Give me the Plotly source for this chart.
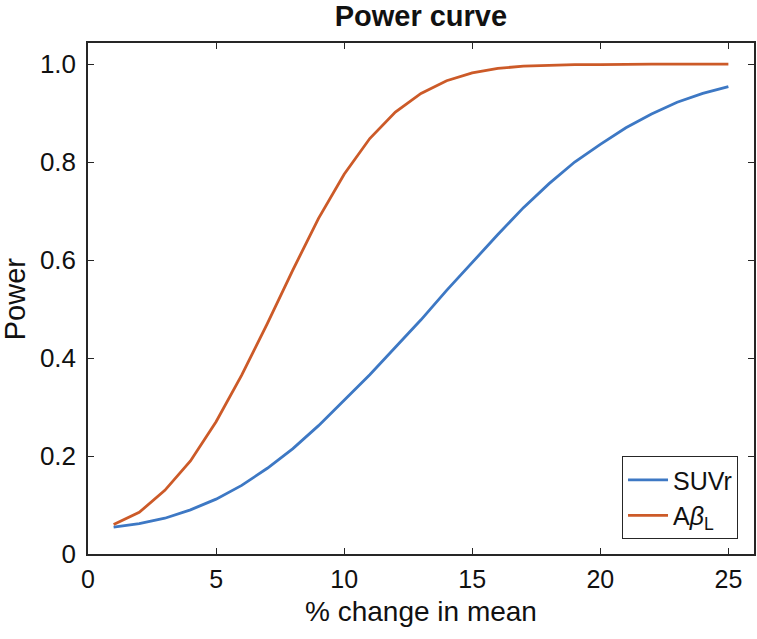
import plotly.graph_objects as go

pct_change = list(range(1, 26))
power_suvr = [0.055, 0.062, 0.073, 0.090, 0.112, 0.140, 0.175, 0.215, 0.262, 0.313,
              0.366, 0.422, 0.478, 0.538, 0.596, 0.652, 0.707, 0.756, 0.800, 0.836,
              0.870, 0.898, 0.922, 0.940, 0.954]
power_abl = [0.060, 0.085, 0.130, 0.190, 0.270, 0.365, 0.470, 0.580, 0.685, 0.775,
             0.848, 0.902, 0.940, 0.966, 0.982, 0.991, 0.996, 0.998, 0.999, 0.999,
             1.000, 1.000, 1.000, 1.000, 1.000]
x_ticks = [0, 5, 10, 15, 20, 25]
y_ticks = [0, 0.2, 0.4, 0.6, 0.8, 1.0]
y_ticktext = ["0", "0.2", "0.4", "0.6", "0.8", "1.0"]

FONT = "Liberation Sans, Arial, sans-serif"

fig = go.Figure()
fig.add_trace(go.Scatter(x=pct_change, y=power_suvr, mode="lines", name="SUVr",
                         line=dict(color="#3D78C4", width=2.8)))
fig.add_trace(go.Scatter(x=pct_change, y=power_abl, mode="lines",
                         name="A<i>β</i><sub>L</sub>",
                         line=dict(color="#CC5A28", width=2.8)))

axis_common = dict(showline=True, linecolor="#262626", linewidth=1.5, mirror="ticks",
                   ticks="inside", ticklen=6, tickwidth=1.3, tickcolor="#262626",
                   showgrid=False, zeroline=False, automargin=False,
                   tickfont=dict(family=FONT, size=26, color="#111111"))

fig.update_layout(
    width=757, height=639,
    margin=dict(l=88, r=3, t=43, b=85),
    paper_bgcolor="white", plot_bgcolor="white",
    title=dict(text="<b>Power curve</b>", x=0.556, xanchor="center", y=0.976, yanchor="middle",
               font=dict(family=FONT, size=29, color="#111111")),
    xaxis=dict(range=[0, 26], tickvals=x_ticks, ticklabelstandoff=2,
               tickfont=dict(family=FONT, size=25, color="#111111"),
               **{k: v for k, v in axis_common.items() if k != "tickfont"}),
    yaxis=dict(range=[0, 1.043], tickvals=y_ticks, ticktext=y_ticktext, ticklabelstandoff=5,
               **axis_common),
    legend=dict(x=0.976, y=0.029, xanchor="right", yanchor="bottom",
                bgcolor="white", bordercolor="#262626", borderwidth=1,
                font=dict(family=FONT, size=25, color="#111111"),
                tracegroupgap=0, itemwidth=40),
    showlegend=True,
    annotations=[
        dict(text="% change in mean", xref="paper", yref="paper", x=0.5, y=-0.1135,
             xanchor="center", yanchor="middle", showarrow=False,
             font=dict(family=FONT, size=28, color="#111111")),
        dict(text="Power", xref="paper", yref="paper", x=-0.110, y=0.5, textangle=-90,
             xanchor="center", yanchor="middle", showarrow=False,
             font=dict(family=FONT, size=29, color="#111111")),
    ],
)

fig.write_html("out.html", config={"displayModeBar": False},
               post_script="document.body.style.margin='0';")
